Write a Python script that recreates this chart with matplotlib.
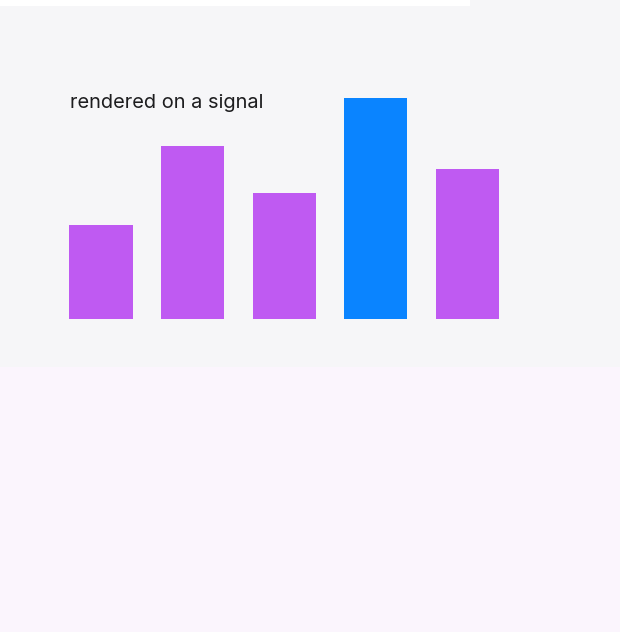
import matplotlib.pyplot as plt
from matplotlib.patches import Rectangle

# bar values
categories = ['A', 'B', 'C', 'D', 'E']
values = [30, 55, 40, 70, 47.5]
highlight = 'D'
label = 'rendered on a signal'

purple = '#bf5af2'
blue = '#0a84ff'

W, H = 620, 632
fig = plt.figure(figsize=(W / 100, H / 100), dpi=100)
fig.patch.set_facecolor('#fbf5fd')

# background panels (figure pixel coords), slightly oversized to avoid edge seams
fig.patches.append(Rectangle((-0.01, (H - 366.7) / H), 1.02, (366.7 - 6) / H,
                             transform=fig.transFigure, color='#f6f6f8', zorder=-2, lw=0))
fig.patches.append(Rectangle((-0.01, (H - 6) / H), 470 / W + 0.01, 6 / H + 0.01,
                             transform=fig.transFigure, color='white', zorder=-2, lw=0))
fig.patches.append(Rectangle((470 / W, (H - 6) / H), 150 / W + 0.01, 6 / H + 0.01,
                             transform=fig.transFigure, color='#f6f6f8', zorder=-2, lw=0))

# plot area: five slots of ~91.6 px starting at x=55, baseline y=319.3, top y=98.3
ax = fig.add_axes([55.2 / W, (H - 319.3) / H, 458 / W, 221 / H])
ax.set_facecolor('none')
colors = [blue if c == highlight else purple for c in categories]
ax.bar(range(len(categories)), values, width=0.69, color=colors)
ax.set_xlim(-0.5, len(categories) - 0.5)
ax.set_ylim(0, max(values))
ax.axis('off')

fig.text(69.5 / W, (H - 108.3) / H, label, fontsize=14.4, family=['Inter', 'DejaVu Sans'],
         color='#1d1d1f', va='baseline', ha='left')

fig.savefig('out.png', dpi=100)
